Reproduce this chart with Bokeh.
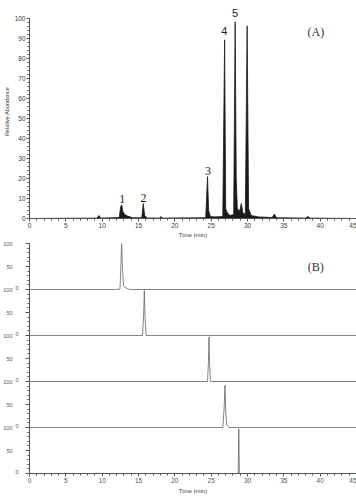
from bokeh.plotting import figure
from bokeh.layouts import column
from bokeh.models import Range1d, SingleIntervalTicker, FixedTicker, LinearAxis, Label, AllLabels
from bokeh.embed import file_html
from bokeh.resources import INLINE
from bokeh.core.properties import value

# ---------------- Panel A: total ion chromatogram ----------------
tic_time = [0, 9.3, 9.55, 9.8, 12.35, 12.55, 12.7, 12.85, 13.1, 13.5, 14.2,
            15.45, 15.65, 15.85, 16.2, 17.9, 18.1, 18.3,
            24.25, 24.5, 24.65, 24.9, 25.5, 26.6, 26.85, 27.0, 27.2, 27.6,
            28.1, 28.3, 28.45, 28.6, 28.9, 29.15, 29.35, 29.7, 29.95, 30.15,
            30.5, 31.5, 33.4, 33.7, 34.0, 38.0, 38.3, 38.6, 45]
tic_abund = [0, 0.2, 1.5, 0.2, 0.5, 6.0, 6.8, 3.5, 2.0, 1.2, 0.4,
             0.4, 7.5, 1.5, 0.3, 0.2, 1.0, 0.2,
             0.4, 21.0, 4.0, 1.0, 0.8, 1.0, 89.5, 5.0, 3.0, 1.5,
             2.0, 98.5, 20.0, 5.0, 3.5, 7.5, 3.0, 2.0, 96.5, 5.0,
             1.5, 0.8, 0.5, 2.2, 0.4, 0.2, 1.0, 0.2, 0]

peak_names = ["1", "2", "3", "4", "5"]
peak_time = [12.75, 15.7, 24.55, 26.8, 28.3]
peak_abund = [6.8, 7.5, 21.0, 89.5, 98.5]

# ---------------- Panel B: extracted ion chromatograms ----------------
eic_time = [
    [0, 11.5, 12.45, 12.55, 12.68, 12.8, 12.95, 13.1, 13.3, 13.6, 14.0, 45],
    [0, 15.55, 15.7, 15.8, 15.9, 16.05, 45],
    [0, 24.5, 24.62, 24.7, 24.78, 24.9, 45],
    [0, 26.6, 26.78, 26.9, 27.0, 27.15, 27.5, 45],
    [0, 28.72, 28.8, 28.88, 45],
]
eic_abund = [
    [0, 0, 0.5, 40, 100, 45, 8, 5, 3, 1, 0, 0],
    [0, 0, 40, 98, 40, 0, 0],
    [0, 0, 40, 97, 40, 0, 0],
    [0, 0, 40, 92, 35, 5, 0, 0],
    [0, 0, 97, 0, 0],
]

b_major = [0, 50, 100]
b_major_labels = ["0", "50", "100"]
b_minor = [10, 20, 30, 40, 60, 70, 80, 90]

TICK_FONT = "Liberation Sans"
AX_COL = "#555555"
LAB_COL = "#3a3a3a"


def style_axis(ax, size="6.5px", col=LAB_COL):
    ax.axis_line_color = AX_COL
    ax.major_tick_line_color = AX_COL
    ax.minor_tick_line_color = AX_COL
    ax.major_tick_in = 0
    ax.major_tick_out = 3
    ax.minor_tick_in = 0
    ax.minor_tick_out = 2
    ax.major_label_text_font = TICK_FONT
    ax.major_label_text_font_size = size
    ax.major_label_text_color = col
    ax.major_label_policy = AllLabels()
    ax.axis_label_text_font = TICK_FONT
    ax.axis_label_text_font_style = "normal"
    ax.axis_label_text_color = LAB_COL


def label_only(ax):
    ax.axis_line_color = None
    ax.major_tick_line_color = None
    ax.minor_tick_line_color = None
    ax.major_tick_out = 0
    ax.minor_tick_out = 0
    ax.major_label_standoff = 1


# ---------------- Figure A ----------------
pA = figure(width=356, height=240, x_range=Range1d(0, 45), y_range=Range1d(0, 107.2),
            output_backend="svg", toolbar_location=None,
            min_border_left=29, min_border_right=0, min_border_top=4, min_border_bottom=20)
pA.outline_line_color = None
pA.grid.grid_line_color = None

pA.varea(x=tic_time, y1=0, y2=tic_abund, fill_color="#1a1a1a")
pA.line(x=tic_time, y=tic_abund, line_color="#1a1a1a", line_width=0.8)

pA.text(x=peak_time[:3], y=peak_abund[:3], text=peak_names[:3], y_offset=-2,
        text_align="center", text_baseline="bottom", text_color="#222222",
        text_font=value("Liberation Serif"), text_font_size=value("12px"))
pA.text(x=peak_time[3:], y=peak_abund[3:], text=peak_names[3:], y_offset=-5,
        text_align="center", text_baseline="bottom", text_color="#222222",
        text_font=value("Liberation Sans"), text_font_size=value("11px"))

pA.add_layout(Label(x=39.4, y=93.5, text="(A)", text_align="center", text_baseline="middle",
                    text_font="Liberation Serif", text_font_size="12px", text_color="#333333"))

pA.xaxis.ticker = SingleIntervalTicker(interval=5, num_minor_ticks=5)
pA.yaxis.ticker = SingleIntervalTicker(interval=10, num_minor_ticks=5)
pA.yaxis.bounds = (0, 100)
pA.xaxis.bounds = (0, 45)
pA.xaxis.axis_label = "Time (min)"
pA.yaxis.axis_label = "Relative Abundance"
for ax in (pA.xaxis[0], pA.yaxis[0]):
    style_axis(ax)
pA.xaxis.major_label_standoff = 1
pA.yaxis.major_label_standoff = 1
pA.xaxis.axis_label_standoff = 1
pA.yaxis.axis_label_standoff = 2
pA.xaxis.axis_label_text_font_size = "6px"
pA.yaxis.axis_label_text_font_size = "5.5px"

# ---------------- Figure B ----------------
n = len(eic_time)
pB = figure(width=356, height=256, x_range=Range1d(0, 45), y_range=Range1d(0, 100 * n),
            output_backend="svg", toolbar_location=None,
            min_border_left=29, min_border_right=0, min_border_top=3, min_border_bottom=21)
pB.outline_line_color = None
pB.grid.grid_line_color = None

for i in range(n):
    band = n - 1 - i
    xy = pB.subplot(x_source=pB.x_range, y_source=Range1d(0, 100),
                    x_target=pB.x_range, y_target=Range1d(100 * band, 100 * band + 100))
    xy.line(x=eic_time[i], y=eic_abund[i], line_color="#666666", line_width=0.8)

pB.add_layout(Label(x=39.4, y=100 * n - 52, text="(B)", text_align="center", text_baseline="middle",
                    text_font="Liberation Serif", text_font_size="12px", text_color="#333333"))

# positions of each trace's ticks on the stacked axis
all_major = sorted({100 * b + v for b in range(n) for v in b_major})
all_minor = [100 * b + v for b in range(n) for v in b_minor]
zero_pos = [100 * b + b_major[0] + 3 for b in range(n)]   # "0" printed slightly raised, as in the original
upper_pos = [100 * b + v for b in range(n) for v in b_major[1:]]
upper_txt = {100 * b + v: s for b in range(n) for v, s in zip(b_major[1:], b_major_labels[1:])}

# axis 1 (next to the traces): line and tick marks only
ax1 = pB.yaxis[0]
ax1.ticker = FixedTicker(ticks=all_major, minor_ticks=all_minor)
style_axis(ax1, size="1px")
ax1.major_label_overrides = {t: " " for t in all_major}
ax1.major_tick_out = 4
ax1.major_label_standoff = 3
ax1.bounds = (0, 100 * n)

# axis 2: the "0" of each trace
ax2 = LinearAxis(ticker=FixedTicker(ticks=zero_pos))
style_axis(ax2, size="5.5px", col="#555555")
label_only(ax2)
ax2.major_label_overrides = {t: b_major_labels[0] for t in zero_pos}
pB.add_layout(ax2, "left")

# axis 3: the "50" and "100" of each trace
ax3 = LinearAxis(ticker=FixedTicker(ticks=upper_pos))
style_axis(ax3, size="5.5px", col="#555555")
label_only(ax3)
ax3.major_label_standoff = 0
ax3.major_label_overrides = upper_txt
pB.add_layout(ax3, "left")

pB.xaxis.ticker = SingleIntervalTicker(interval=5, num_minor_ticks=5)
pB.xaxis.bounds = (0, 45)
pB.xaxis.axis_label = "Time (min)"
style_axis(pB.xaxis[0], col="#555555")
pB.xaxis.major_label_standoff = 1
pB.xaxis.axis_label_standoff = 2
pB.xaxis.axis_label_text_font_size = "6px"

layout = column(pA, pB, spacing=0)
open("out.html", "w").write(file_html(layout, INLINE))
